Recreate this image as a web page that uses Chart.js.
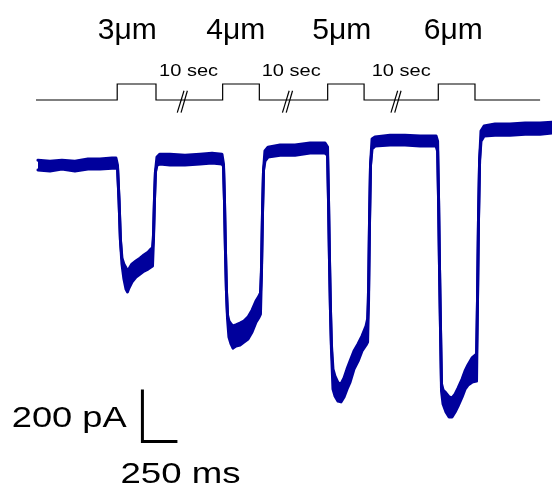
<!DOCTYPE html>
<html><head><meta charset="utf-8">
<script src="https://cdn.jsdelivr.net/npm/chart.js@4"></script>
<style>html,body{margin:0;padding:0;background:#fff;}canvas{display:block;}</style>
</head><body>
<canvas id="c" width="552" height="489"></canvas>
<script>
// Recorded current trace (segments joined at the 10 s breaks), read as the
// upper and lower edge of the noisy band
const traceTimeMs = [0,86,171,264,357,443,529,557,
  568,579,589,600,614,629,639,650,671,700,729,757,786,807,818,825,832,839,850,871,
  943,1050,1157,1243,1314,
  1325,1332,1339,1346,1354,1364,1379,1393,1414,1443,1471,1500,1529,1557,1579,1589,1596,1604,1611,1621,1643,
  1729,1836,1943,2050,
  2068,2075,2082,2089,2096,2107,2121,2143,2164,2186,2207,2229,2257,2286,2314,2343,2354,2361,2368,2375,2386,2407,
  2514,2621,2729,2843,
  2854,2861,2868,2875,2882,2893,2914,2936,2957,2979,3000,3029,3050,3071,3100,3132,3139,3146,3154,3164,3186,
  3264,3371,3479,3586,3671];
const traceUpperPA = [19,15,19,15,23,23,27,27,
  0,-135,-288,-358,-381,-396,-408,-400,-381,-369,-358,-346,-335,-323,-319,-269,-135,-27,31,42,
  42,38,42,46,42,
  4,-135,-327,-481,-577,-600,-612,-619,-615,-608,-600,-585,-558,-523,-504,-492,-404,-173,-19,54,69,
  77,77,85,85,
  69,-135,-365,-558,-692,-785,-812,-838,-842,-819,-785,-754,-715,-688,-658,-619,-592,-481,-212,0,100,108,
  115,115,112,112,
  92,-135,-404,-635,-842,-865,-877,-892,-896,-881,-858,-823,-792,-769,-742,-727,-519,-212,19,131,150,
  158,158,162,162,165];
const traceLowerPA = [-19,-23,-15,-23,-15,-15,-12,-12,
  -8,-135,-288,-381,-438,-477,-488,-473,-450,-431,-419,-408,-400,-392,-388,-288,-135,-27,0,4,
  0,0,4,8,4,
  -4,-135,-327,-481,-592,-662,-688,-704,-696,-692,-681,-669,-642,-604,-585,-573,-423,-173,-19,15,31,
  38,38,46,46,
  38,-135,-365,-558,-708,-862,-888,-908,-911,-892,-862,-835,-785,-754,-715,-692,-681,-519,-212,0,62,73,
  77,77,73,73,
  54,-135,-404,-635,-869,-919,-950,-969,-969,-950,-927,-892,-862,-846,-835,-831,-519,-212,19,92,112,
  115,115,119,119,123];

// Stimulus protocol (step schematic)
const stimTimeMs = [-14,566,566,843,843,1319,1319,1581,1581,2069,2069,2329,2329,2859,2859,3121,3121,3586];
const stimLevel  = [0,0,1,1,0,0,1,1,0,0,1,1,0,0,1,1,0,0];
const stepLabels = ["3μm","4μm","5μm","6μm"];
const breakLabel = "10 sec";
const breakTimesMs = [1031,1782,2557];

// Scale bar
const scaleBarOrigin = {t:746, i:-1063};
const scaleBarTimeMs = 250;
const scaleBarCurrentPA = 200;
const scaleBarLabels = ["200 pA","250 ms"];

const upper = traceTimeMs.map((t,k)=>({x:t,y:traceUpperPA[k]}));
const lower = traceTimeMs.map((t,k)=>({x:t,y:traceLowerPA[k]}));
const stim = stimTimeMs.map((t,k)=>({x:t,y:stimLevel[k]}));
const scaleBar = [
  {x:scaleBarOrigin.t, y:scaleBarOrigin.i+scaleBarCurrentPA},
  {x:scaleBarOrigin.t, y:scaleBarOrigin.i},
  {x:scaleBarOrigin.t+scaleBarTimeMs, y:scaleBarOrigin.i}
];

const breakSets = [];
breakTimesMs.forEach(c=>{
  breakSets.push([{x:c-36,y:-0.79},{x:c+12,y:0.58}]);
  breakSets.push([{x:c-9,y:-0.79},{x:c+36,y:0.58}]);
});

const textPlugin = {
  id:'texts',
  afterDraw(chart){
    const ctx = chart.ctx;
    const draw = (txt, cx, base, size, width)=>{
      ctx.save();
      ctx.font = size+'px "Liberation Sans", Arial, sans-serif';
      ctx.fillStyle = '#000';
      ctx.textAlign = 'center';
      ctx.textBaseline = 'alphabetic';
      const w = ctx.measureText(txt).width;
      ctx.translate(cx, base);
      ctx.scale(width/w, 1);
      ctx.fillText(txt, 0, 0);
      ctx.restore();
    };
    const stepCenters = [127.2,235.8,341.7,453.3];
    stepLabels.forEach((s,k)=>draw(s, stepCenters[k], 38.5, 30, 59));
    const breakCenters = [188.6,291.2,401.2];
    breakCenters.forEach(c=>draw(breakLabel, c, 75.5, 16, 59));
    draw(scaleBarLabels[0], 69.2, 426.7, 30, 115);
    draw(scaleBarLabels[1], 180.5, 483.3, 30, 120);
  }
};

const traceColor = '#00009c';
new Chart(document.getElementById('c'), {
  type:'line',
  data:{datasets:[
    {data:lower, yAxisID:'y', borderColor:traceColor, borderWidth:3, pointRadius:0, tension:0,
     borderJoinStyle:'round', borderCapStyle:'round', fill:false},
    {data:upper, yAxisID:'y', borderColor:traceColor, backgroundColor:traceColor, borderWidth:3, pointRadius:0, tension:0,
     borderJoinStyle:'round', borderCapStyle:'round', fill:'-1'},
    {data:stim, yAxisID:'y2', borderColor:'#000', borderWidth:1.2, pointRadius:0, tension:0, fill:false},
    ...breakSets.map(b=>({data:b, yAxisID:'y2', borderColor:'#000', borderWidth:1.2, pointRadius:0, fill:false})),
    {data:scaleBar, yAxisID:'y', borderColor:'#000', borderWidth:3, pointRadius:0, fill:false,
     borderJoinStyle:'miter', borderCapStyle:'butt'}
  ]},
  options:{
    responsive:false, animation:false, devicePixelRatio:1,
    layout:{padding:0},
    plugins:{legend:{display:false}, tooltip:{enabled:false}, title:{display:false}},
    scales:{
      x:{type:'linear', display:false, min:-271, max:3671},
      y:{type:'linear', display:false, min:-1246, max:635},
      y2:{type:'linear', display:false, min:-24.3125, max:6.25}
    }
  },
  plugins:[textPlugin]
});
</script>
</body></html>
